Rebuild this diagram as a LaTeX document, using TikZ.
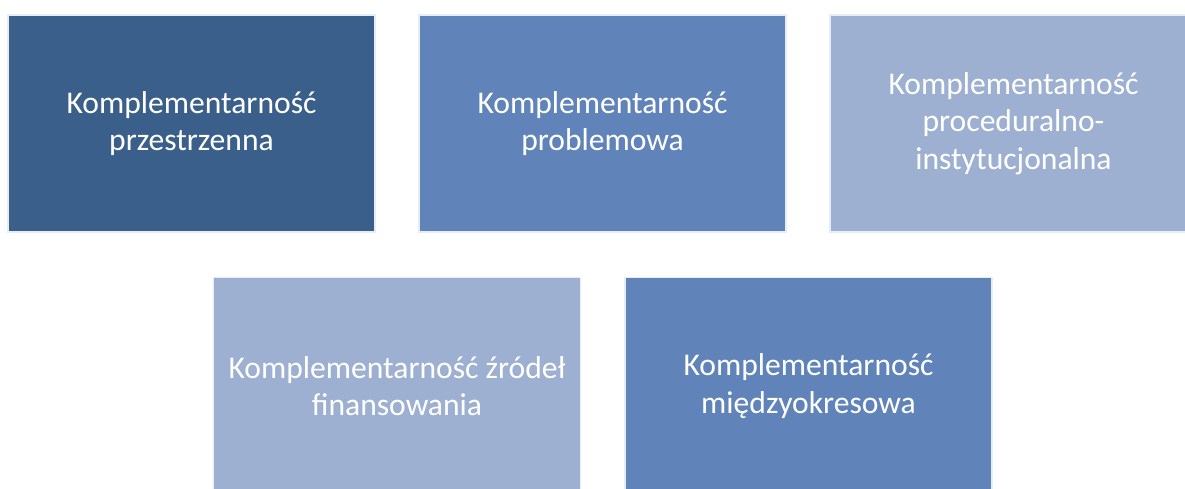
\documentclass[tikz,border=0pt]{standalone}
\usepackage{fontspec}
\setmainfont{Carlito}
\usetikzlibrary{calc}
\definecolor{ciemny}{RGB}{58,95,139}
\definecolor{sredni}{RGB}{96,132,185}
\definecolor{jasny}{RGB}{157,176,209}

\begin{document}
\begin{tikzpicture}[x=0.5pt,y=-0.5pt,
		blok/.style={draw=white!85!sredni,line width=0.6pt,text=white,align=center,minimum width=183.5pt,minimum height=108.5pt,inner sep=0pt,font=\fontsize{15.8}{18.8}\selectfont}]
		\useasboundingbox (0,0) rectangle (1185,488);
		\clip (0,0) rectangle (1185,488);
		\node (A) at (191.5,123.5) [blok,fill=ciemny] {Komplementarność\\przestrzenna};
		\node (B) at ($(A) + (411,0)$) [blok,fill=sredni] {Komplementarność\\problemowa};
		\node (C) at ($(B) + (411,0)$) [blok,fill=jasny] {Komplementarność\\proceduralno-\\instytucjonalna};
		\node (D) at (397,386) [blok,fill=jasny] {Komplementarność źródeł\\finansowania};
		\node (E) at ($(D) + (411.5,0)$) [blok,fill=sredni] {Komplementarność\\międzyokresowa};
	\end{tikzpicture}
\end{document}
